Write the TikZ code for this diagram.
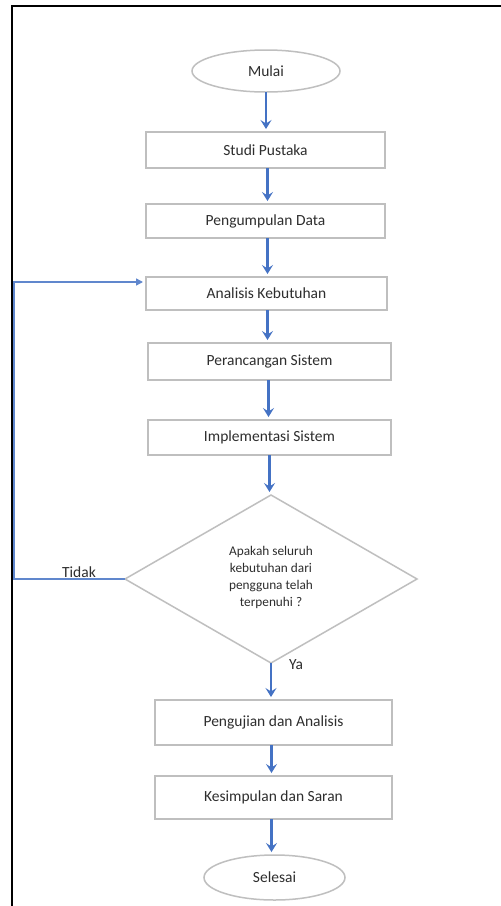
\documentclass[tikz,border=0pt]{standalone}
\usepackage{fontspec}
\setmainfont{Carlito}
\usetikzlibrary{shapes.geometric,arrows.meta}
\definecolor{arrblue}{HTML}{4472C4}
\definecolor{boxgray}{HTML}{BFBFBF}
\definecolor{txtgray}{HTML}{2E2E2E}
\begin{document}
\begin{tikzpicture}[x=1pt,y=-1pt,
  every node/.style={text=txtgray,font=\fontsize{15.5}{18}\selectfont,outer sep=0pt,inner sep=0pt},
  procbox/.style={draw=boxgray,line width=1.5pt,rectangle,align=center},
  term/.style={draw=boxgray,line width=1.5pt,ellipse},
  decbox/.style={draw=boxgray,line width=1.5pt,diamond,align=center},
  flow/.style={draw=arrblue,line width=2.2pt,-{Stealth[length=9pt,width=11pt,inset=3.5pt]},shorten >=3pt},
  back/.style={draw=arrblue!85,line width=1.5pt,-{Triangle[length=7pt,width=7pt]}},
  lbl/.style={text=txtgray}]
\useasboundingbox (0,0) rectangle (501,906);
\fill[white] (0,0) rectangle (501,906);
\draw[black,line width=2.4pt] (12,906) -- (12,6) -- (501,6);

\node[term,minimum width=148pt,minimum height=42pt] (mulai) at (266,71) {Mulai};
\node[procbox,minimum width=239pt,minimum height=36pt] (studi) at (265.5,150) {Studi Pustaka};
\node[procbox,minimum width=239pt,minimum height=34pt] (data) at (265.5,221) {Pengumpulan Data};
\node[procbox,minimum width=241pt,minimum height=33pt] (analisis) at (266.5,293.5) {Analisis Kebutuhan};
\node[procbox,minimum width=243pt,minimum height=37pt] (rancang) at (269.5,361.5) {Perancangan Sistem};
\node[procbox,minimum width=243pt,minimum height=35pt] (impl) at (269.5,437.5) {Implementasi Sistem};
\node[decbox,minimum width=292pt,minimum height=168pt] (dec) at (271,579) {};
\node[font=\fontsize{13.3}{17}\selectfont,align=center] (dectext) at (271,577.5) {Apakah seluruh\\kebutuhan dari\\pengguna telah\\terpenuhi ?};
\node[procbox,minimum width=237pt,minimum height=45pt] (uji) at (273.5,722.5) {Pengujian dan Analisis};
\node[procbox,minimum width=237pt,minimum height=43pt] (simpul) at (273.5,797.5) {Kesimpulan dan Saran};
\node[term,minimum width=141pt,minimum height=45pt] (selesai) at (274.5,877.5) {Selesai};

\draw[flow] (mulai.south) -- (mulai.south |- studi.north);
\draw[flow] ([xshift=2pt]studi.south) -- ([xshift=2pt]studi.south |- data.north);
\draw[flow] ([xshift=2pt]data.south) -- ([xshift=2pt]data.south |- analisis.north);
\draw[flow] ([xshift=1pt]analisis.south) -- ([xshift=1pt]analisis.south |- rancang.north);
\draw[flow] ([xshift=-1pt]rancang.south) -- ([xshift=-1pt]rancang.south |- impl.north);
\draw[flow] (impl.south) -- (impl.south |- dec.north);
\draw[flow] (dec.south) -- (dec.south |- uji.north);
\draw[flow] ([xshift=-2pt]uji.south) -- ([xshift=-2pt]uji.south |- simpul.north);
\draw[flow] ([xshift=-2pt]simpul.south) -- ([xshift=-2pt]simpul.south |- selesai.north);

\coordinate (c1) at (14,579);
\coordinate (c2) at (14,282);
\coordinate (c3) at (143,282);
\draw[back] (dec.west) -- (c1) -- (c2) -- (c3);

\node[lbl,anchor=base] (tidak) at (79,577) {Tidak};
\node[lbl] (ya) at (296,665) {Ya};
\end{tikzpicture}
\end{document}
